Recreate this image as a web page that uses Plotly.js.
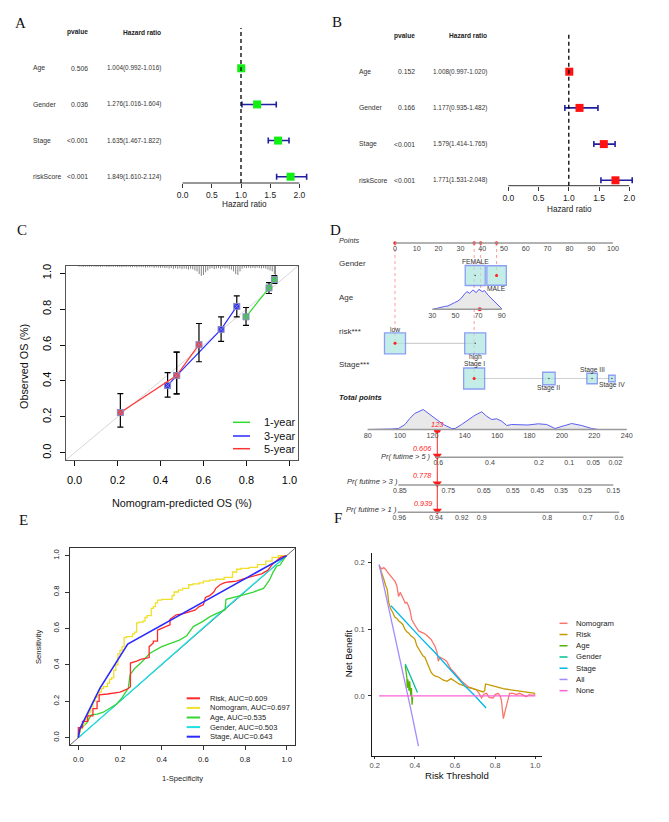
<!DOCTYPE html>
<html><head><meta charset="utf-8">
<script src="https://cdn.plot.ly/plotly-3.0.1.min.js"></script>
<style>html,body{margin:0;padding:0;background:#fff}#chart{width:669px;height:822px}</style>
</head><body><div id="chart"></div>
<script>
// ================= DATA =================
// A / B : Cox regression
const coxVars = ['Age', 'Gender', 'Stage', 'riskScore'];
const uniP = ['0.506', '0.036', '<0.001', '<0.001'];
const uniHR = [1.004, 1.276, 1.635, 1.849];
const uniLow = [0.992, 1.016, 1.467, 1.610];
const uniHigh = [1.016, 1.604, 1.822, 2.124];
const multiP = ['0.152', '0.166', '<0.001', '<0.001'];
const multiHR = [1.008, 1.177, 1.579, 1.771];
const multiLow = [0.997, 0.935, 1.414, 1.531];
const multiHigh = [1.020, 1.482, 1.765, 2.048];
const hrTicks = [0, 0.5, 1, 1.5, 2];

// C : calibration
const calNames = ['1-year', '3-year', '5-year'];
const cal1X = [0.798, 0.905, 0.930], cal1Y = [0.757, 0.918, 0.965], cal1Lo = [0.709, 0.887, 0.943], cal1Hi = [0.809, 0.948, 0.987];
const cal3X = [0.433, 0.475, 0.682, 0.755], cal3Y = [0.374, 0.430, 0.687, 0.815], cal3Lo = [0.310, 0.328, 0.620, 0.757], cal3Hi = [0.446, 0.560, 0.757, 0.874];
const cal5X = [0.213, 0.475, 0.579], cal5Y = [0.224, 0.430, 0.602], cal5Lo = [0.143, 0.328, 0.507], cal5Hi = [0.330, 0.560, 0.720];
const rugX = [0.02,0.03,0.04,0.05,0.06,0.07,0.08,0.09,0.10,0.11,0.12,0.13,0.14,0.15,0.16,0.17,0.18,0.19,0.20,0.21,0.22,0.23,0.24,0.25,0.26,0.27,0.28,0.29,0.30,0.31,0.32,0.33,0.34,0.35,0.36,0.37,0.38,0.39,0.40,0.41,0.42,0.43,0.44,0.45,0.46,0.47,0.48,0.49,0.50,0.51,0.52,0.53,0.54,0.55,0.56,0.57,0.58,0.59,0.60,0.61,0.62,0.63,0.64,0.65,0.66,0.67,0.68,0.69,0.70,0.71,0.72,0.73,0.74,0.75,0.76,0.77,0.78,0.79,0.80,0.81,0.82,0.83,0.84,0.85,0.86,0.87,0.88,0.89,0.90,0.91,0.92,0.93,0.935];
const rugLen = [0.004,0.003,0.005,0.004,0.003,0.005,0.004,0.003,0.005,0.004,0.006,0.004,0.003,0.005,0.006,0.004,0.005,0.004,0.006,0.005,0.007,0.005,0.006,0.004,0.007,0.006,0.005,0.008,0.006,0.007,0.006,0.009,0.007,0.008,0.006,0.010,0.008,0.009,0.010,0.009,0.012,0.010,0.014,0.011,0.016,0.012,0.015,0.013,0.018,0.014,0.016,0.020,0.015,0.018,0.025,0.030,0.045,0.055,0.050,0.035,0.025,0.015,0.012,0.018,0.014,0.012,0.016,0.010,0.014,0.012,0.018,0.020,0.030,0.045,0.050,0.030,0.015,0.010,0.012,0.009,0.012,0.010,0.013,0.009,0.012,0.014,0.012,0.015,0.020,0.025,0.030,0.045,0.070];

// D : nomogram
const pointsTicks = [0,10,20,30,40,50,60,70,80,90,100];
const genderLevels = ['FEMALE', 'MALE'], genderPts = [36.8, 46.6], genderBox = [20, 19.5];
const ageTicks = [30, 50, 70, 90];
const ageDensX = [30.5, 34, 37.7, 40.5, 43.5, 46.4, 49.3, 52.2, 55, 57.9, 59.9, 62.2, 65.1, 68, 70.3, 73.2, 75.2, 78.1, 82.4, 85.3, 88.2, 90.5];
const ageDensY = [0, 1.2, 2, 2.8, 3.3, 5.3, 6.7, 8.3, 11, 15.3, 17.7, 16, 19.3, 16.7, 20, 17.7, 18.7, 14.3, 9.3, 5.3, 2.7, 0];
const riskLevels = ['low', 'high'], riskPts = [0, 36.8], riskBox = [21, 21];
const stageLevels = ['Stage I', 'Stage II', 'Stage III', 'Stage IV'], stagePts = [36.3, 70.6, 90.4, 99.5], stageBox = [21, 12.5, 10.5, 6.5];
const totalTicks = [80,100,120,140,160,180,200,220,240];
const totDensX = [80, 90, 95, 99, 103, 106, 109, 114.3, 118.5, 122.6, 126.7, 131.9, 134, 138, 142.1, 146.3, 150.4, 153.5, 156.6, 159.7, 162.8, 165.9, 169, 173, 179, 185.4, 190.6, 195.7, 199.8, 206, 212.2, 218.4, 222.5, 230, 240];
const totDensY = [0, 0, 0.5, 1, 5, 11, 16, 20, 15, 10, 5, 1, 1, 5, 10, 14.3, 17.7, 13.3, 10, 10.7, 8.3, 4, 5, 5, 4.5, 5.7, 5, 1, 3, 6, 4, 1, 0, 0.3, 0];
const p5Labels = ['0.6','0.4','0.2','0.1','0.05','0.02'], p5Pos = [123.6, 155.5, 185.8, 204.5, 219.3, 232.9];
const p3Labels = ['0.85','0.75','0.65','0.55','0.45','0.35','0.25','0.15'], p3Pos = [99.9, 129.8, 151.8, 169.6, 184.8, 199.4, 214.2, 231.7];
const p1Labels = ['0.96','0.94','0.92','0.9','0.8','0.7','0.6'], p1Pos = [99.5, 122.2, 138.1, 150.4, 190.9, 215.9, 235.4];
const obsPoints = [46.6, 39.3, 0, 36.3];   // MALE, age 71, low risk, Stage I
const obsAge = 71;
const obsTotal = 123;
const obsProb = [0.606, 0.778, 0.939];     // 5-, 3-, 1-year

// E : ROC
const rocNames = ['Risk', 'Nomogram', 'Age', 'Gender', 'Stage'];
const rocAUC = [0.609, 0.697, 0.535, 0.503, 0.643];
const rocRiskX = [0,0,0.02,0.02,0.045,0.045,0.07,0.07,0.09,0.09,0.10,0.10,0.14,0.17,0.20,0.22,0.24,0.25,0.25,0.28,0.30,0.34,0.34,0.36,0.36,0.38,0.38,0.40,0.42,0.44,0.44,0.47,0.50,0.53,0.56,0.58,0.60,0.61,0.63,0.65,0.66,0.68,0.70,0.72,0.76,0.80,0.85,0.88,0.91,0.93,0.95,0.97,1.0];
const rocRiskY = [0,0.055,0.055,0.09,0.09,0.12,0.12,0.16,0.16,0.20,0.20,0.235,0.24,0.245,0.25,0.26,0.27,0.28,0.41,0.42,0.43,0.44,0.50,0.52,0.53,0.53,0.59,0.60,0.61,0.62,0.65,0.675,0.68,0.69,0.70,0.72,0.73,0.77,0.78,0.80,0.82,0.84,0.85,0.855,0.86,0.875,0.89,0.90,0.92,0.95,0.97,0.99,1.0];
const rocNomoX = [0,0.01,0.02,0.03,0.04,0.05,0.06,0.07,0.08,0.09,0.10,0.11,0.12,0.14,0.15,0.16,0.17,0.18,0.19,0.20,0.21,0.22,0.23,0.26,0.27,0.28,0.29,0.31,0.32,0.33,0.35,0.36,0.37,0.38,0.40,0.45,0.46,0.48,0.50,0.53,0.55,0.58,0.60,0.63,0.66,0.70,0.74,0.76,0.78,0.82,0.86,0.90,0.93,0.96,1.0];
const rocNomoY = [0,0.03,0.05,0.07,0.10,0.12,0.14,0.17,0.20,0.22,0.23,0.25,0.27,0.28,0.30,0.32,0.33,0.37,0.40,0.46,0.48,0.50,0.55,0.555,0.57,0.58,0.63,0.635,0.64,0.66,0.67,0.71,0.72,0.74,0.755,0.76,0.78,0.80,0.81,0.82,0.84,0.845,0.85,0.86,0.865,0.87,0.88,0.91,0.925,0.93,0.935,0.95,0.97,0.99,1.0];
const rocAgeX = [0,0.005,0.02,0.04,0.062,0.09,0.12,0.15,0.184,0.21,0.24,0.248,0.27,0.30,0.344,0.40,0.45,0.488,0.52,0.536,0.552,0.60,0.632,0.67,0.704,0.709,0.75,0.793,0.84,0.889,0.917,0.933,0.952,0.968,0.992,1.0];
const rocAgeY = [0,0.04,0.06,0.08,0.125,0.13,0.14,0.16,0.185,0.22,0.272,0.345,0.38,0.41,0.464,0.50,0.52,0.537,0.56,0.583,0.61,0.64,0.665,0.685,0.702,0.76,0.77,0.784,0.80,0.82,0.865,0.905,0.942,0.948,0.99,1.0];
const rocGenderX = [0, 0.71, 1.0];
const rocGenderY = [0, 0.715, 1.0];
const rocStageX = [0, 0.008, 0.104, 0.237, 1.0];
const rocStageY = [0, 0.05, 0.272, 0.514, 1.0];

// F : decision curves
const dcaNames = ['Nomogram', 'Risk', 'Age', 'Gender', 'Stage', 'All', 'None'];
const dcaNomoX = [0.222,0.235,0.245,0.253,0.262,0.27,0.278,0.29,0.302,0.31,0.319,0.327,0.335,0.343,0.352,0.36,0.368,0.376,0.385,0.395,0.41,0.42,0.43,0.443,0.455,0.468,0.48,0.49,0.501,0.51,0.517,0.525,0.534,0.545,0.558,0.57,0.58,0.591,0.61,0.633,0.65,0.674,0.69,0.707,0.72,0.732,0.745,0.757,0.77,0.79,0.80,0.815,0.825,0.831,0.836,0.841,0.848,0.856,0.864,0.872,0.89,0.905,0.922,0.94,0.955,0.97,0.985,1.0];
const dcaNomoY = [0.195,0.19,0.192,0.19,0.186,0.183,0.181,0.175,0.171,0.165,0.149,0.155,0.151,0.145,0.139,0.14,0.135,0.128,0.114,0.108,0.101,0.097,0.096,0.094,0.092,0.089,0.085,0.08,0.074,0.066,0.052,0.058,0.057,0.055,0.052,0.045,0.04,0.037,0.03,0.022,0.018,0.012,0.011,0.009,0.004,-0.003,0.003,0.004,-0.002,-0.003,0.002,0.004,0.0,-0.006,-0.02,-0.034,-0.025,-0.016,-0.005,0.004,0.004,0.002,0.004,0.001,-0.001,0.002,0.001,0.002];
const dcaRiskX = [0.222,0.235,0.245,0.255,0.262,0.27,0.28,0.29,0.30,0.31,0.32,0.33,0.34,0.35,0.36,0.37,0.38,0.39,0.40,0.41,0.42,0.43,0.44,0.45,0.46,0.47,0.48,0.49,0.50,0.52,0.54,0.56,0.58,0.60,0.62,0.64,0.66,0.68,0.70,0.72,0.74,0.748,0.752,0.78,0.80,0.84,0.88,0.92,0.96,1.0];
const dcaRiskY = [0.195,0.185,0.175,0.165,0.16,0.14,0.13,0.125,0.118,0.116,0.112,0.11,0.107,0.1,0.096,0.094,0.09,0.088,0.085,0.075,0.07,0.064,0.06,0.058,0.05,0.042,0.036,0.032,0.03,0.028,0.024,0.022,0.026,0.022,0.018,0.016,0.013,0.012,0.010,0.008,0.006,0.008,0.018,0.016,0.014,0.011,0.009,0.007,0.005,0.004];
const dcaAgeX = [0.352,0.356,0.36,0.362,0.365,0.368,0.371,0.374,0.377,0.38,0.383,0.386,0.389];
const dcaAgeY = [0.045,0.035,0.028,0.012,0.025,0.018,0.008,0.022,0.015,0.0,0.012,-0.013,-0.002];
const dcaGenderX = [0.352, 0.413], dcaGenderY = [0.048, 0.005];
const dcaStageX = [0.281,0.35,0.42,0.5,0.58,0.65,0.7,0.755], dcaStageY = [0.135,0.112,0.09,0.065,0.038,0.015,0.0,-0.018];
const dcaAllX = [0.222,0.26,0.3,0.34,0.38,0.418], dcaAllY = [0.197,0.145,0.092,0.035,-0.02,-0.075];
const dcaNoneX = [0.222, 1.0], dcaNoneY = [0, 0];

// ================= LAYOUT HELPERS =================
const W = 669, H = 822;
const FONT = 'Liberation Sans, Arial, Helvetica, sans-serif';
const SERIF = 'Liberation Serif, Times New Roman, serif';
const px = v => v / W;
const py = v => 1 - v / H;
const dom = (a, b) => [px(a), px(b)];
const domY = (top, bottom) => [py(bottom), py(top)];
function rng(d0, d1, v0, p0, v1, p1) { const s = (v1 - v0) / (p1 - p0); return [v0 + (d0 - p0) * s, v0 + (d1 - p0) * s]; }
const traces = [], shapes = [], annotations = [];
function ann(text, x, y, o) {
  return Object.assign({ text, x: px(x), y: py(y), xref: 'paper', yref: 'paper', showarrow: false,
    xanchor: 'center', yanchor: 'middle', font: { family: FONT, size: 8, color: '#222' } }, o || {});
}
function hline(xref, x0, x1, ypx, color, width) {
  shapes.push({ type: 'line', xref, yref: 'paper', x0, x1, y0: py(ypx), y1: py(ypx), line: { color, width } });
}
const layout = { width: W, height: H, margin: { l: 0, r: 0, t: 0, b: 0 }, showlegend: false,
  paper_bgcolor: '#fff', plot_bgcolor: 'rgba(0,0,0,0)', font: { family: FONT, size: 8, color: '#222' } };

// ================= A & B : forest plots =================
function forest(xa, ya, hr, lo, hi, pv, color, g) {
  const rows = coxVars.map((_, i) => coxVars.length - i);
  const xk = xa === 'x' ? 'xaxis' : 'xaxis' + xa.slice(1);
  const yk = ya === 'y' ? 'yaxis' : 'yaxis' + ya.slice(1);
  layout[xk] = { domain: dom(g.d0, g.d1), range: rng(g.d0, g.d1, 0, g.x0, 2, g.x2), anchor: ya,
    showgrid: false, zeroline: false, showline: false, ticks: 'outside', ticklen: 4, tickwidth: 1, tickcolor: '#333',
    tickvals: hrTicks, tickformat: '.1f', tickfont: { family: FONT, size: 8.5, color: '#222' } };
  layout[yk] = { domain: domY(g.top, g.axisY), range: rng(g.axisY, g.top, 4, g.rowTop, 1, g.rowBot), visible: false, anchor: xa };
  hline(xa, 0, 2, g.axisY, '#333', 1);
  shapes.push({ type: 'line', xref: xa, yref: 'paper', x0: 1, x1: 1, y0: py(g.axisY), y1: py(g.top),
    line: { color: '#000', width: 1.3, dash: '4px,3px' } });
  traces.push({ type: 'scatter', mode: 'markers', x: hr, y: rows, xaxis: xa, yaxis: ya, cliponaxis: false, hoverinfo: 'skip',
    marker: { symbol: 'square', size: 8, color },
    error_x: { type: 'data', symmetric: false, array: hi.map((h, i) => h - hr[i]), arrayminus: lo.map((l, i) => hr[i] - l),
      color: '#1f1fa0', thickness: 1.6, width: 3 } });
  const tf = { family: FONT, size: 6.8, color: '#333' };
  coxVars.forEach((v, i) => {
    annotations.push({ xref: 'paper', yref: ya, x: px(g.labX), y: rows[i], text: v, xanchor: 'left', yanchor: 'middle', showarrow: false, font: tf });
    annotations.push({ xref: 'paper', yref: ya, x: px(g.pX), y: rows[i], text: pv[i], xanchor: 'right', yanchor: 'middle', showarrow: false, font: tf });
    annotations.push({ xref: 'paper', yref: ya, x: px(g.hrX), y: rows[i],
      text: hr[i].toFixed(3) + '(' + lo[i].toFixed(3) + '-' + hi[i].toFixed(3) + ')', xanchor: 'right', yanchor: 'middle', showarrow: false,
      font: { family: FONT, size: 6.4, color: '#333' } });
  });
  annotations.push(ann('<b>pvalue</b>', g.pX, g.headY, { xanchor: 'right', font: { family: FONT, size: 6.6, color: '#222' } }));
  annotations.push(ann('<b>Hazard ratio</b>', g.hrX, g.headY, { xanchor: 'right', font: { family: FONT, size: 6.6, color: '#222' } }));
  annotations.push(ann('Hazard ratio', g.titleX, g.titleY, { font: { family: FONT, size: 8.2, color: '#222' } }));
}
forest('x', 'y', uniHR, uniLow, uniHigh, uniP, '#11ee11',
  { d0: 165, d1: 322, x0: 182.6, x2: 299.4, top: 28, axisY: 183, rowTop: 68.3, rowBot: 176.7,
    labX: 30.5, pX: 90, hrX: 162.5, headY: 32.3, titleX: 244, titleY: 205 });
forest('x2', 'y2', multiHR, multiLow, multiHigh, multiP, '#ff1111',
  { d0: 492, d1: 660, x0: 508.3, x2: 629.3, top: 32.7, axisY: 185.7, rowTop: 71.7, rowBot: 180.3,
    labX: 357.3, pX: 417.3, hrX: 488.7, headY: 35.7, titleX: 569, titleY: 209.5 });

// ================= C : calibration =================
const boxAxis = (o) => Object.assign({ showline: true, mirror: true, linecolor: '#111', linewidth: 1, ticks: 'outside',
  tickcolor: '#111', showgrid: false, zeroline: false, tickvals: [0, 0.2, 0.4, 0.6, 0.8, 1], tickformat: '.1f' }, o);
layout.xaxis3 = boxAxis({ domain: dom(66, 298), range: [-0.04, 1.04], anchor: 'y3', ticklen: 5, linecolor: '#555',
  tickfont: { family: FONT, size: 11, color: '#000' }, ticklabelstandoff: 5 });
layout.yaxis3 = boxAxis({ domain: domY(266, 460), range: [-0.04, 1.04], anchor: 'x3', ticklen: 5, tickangle: -90, linecolor: '#555',
  tickfont: { family: FONT, size: 11, color: '#000' }, ticklabelstandoff: 5 });
traces.push({ type: 'scatter', mode: 'lines', x: [-0.04, 1.04], y: [-0.04, 1.04], xaxis: 'x3', yaxis: 'y3',
  line: { color: '#d6d6d6', width: 1 }, hoverinfo: 'skip' });
{
  const rx = [], ry = [];
  rugX.forEach((x, i) => { rx.push(x, x, null); ry.push(1.04, 1.04 - rugLen[i], null); });
  traces.push({ type: 'scatter', mode: 'lines', x: rx, y: ry, xaxis: 'x3', yaxis: 'y3', line: { color: '#666', width: 0.8 }, hoverinfo: 'skip' });
}
const calColors = ['#2fdc2f', '#2a2aff', '#ff3535'];
[[cal1X, cal1Y, cal1Lo, cal1Hi], [cal3X, cal3Y, cal3Lo, cal3Hi], [cal5X, cal5Y, cal5Lo, cal5Hi]].forEach((s, k) => {
  traces.push({ type: 'scatter', mode: 'lines+markers', x: s[0], y: s[1], xaxis: 'x3', yaxis: 'y3', name: calNames[k],
    line: { color: calColors[k], width: 1.2 }, hoverinfo: 'skip',
    marker: { symbol: 'square-x', size: 6, color: calColors[k], line: { color: '#8a8ac0', width: 1 } },
    error_y: { type: 'data', symmetric: false, array: s[3].map((h, i) => h - s[1][i]), arrayminus: s[2].map((l, i) => s[1][i] - l),
      color: '#000', thickness: 1.2, width: 3 } });
});
calNames.forEach((n, k) => {
  const yy = [422.3, 436, 448.7][k];
  shapes.push({ type: 'line', xref: 'paper', yref: 'paper', x0: px(233), x1: px(250), y0: py(yy), y1: py(yy), line: { color: calColors[k], width: 1.5 } });
  annotations.push(ann(n, 262, yy, { xanchor: 'left', font: { family: FONT, size: 11, color: '#111' } }));
});
annotations.push(ann('Nomogram-predicted OS (%)', 182, 503, { font: { family: FONT, size: 10.8, color: '#111' } }));
annotations.push(ann('Observed OS (%)', 24, 367, { textangle: -90, font: { family: FONT, size: 10.8, color: '#111' } }));

// ================= D : nomogram =================
const dD0 = 340, dD1 = 660;
const ptsRange = rng(dD0, dD1, 0, 395, 100, 613);
const ageRange = rng(dD0, dD1, 30, 432.3, 90, 501.7);
const totRange = rng(dD0, dD1, 80, 367.7, 240, 626.7);
const rowY = { points: 243, gender: 275.5, age: 309.3, risk: 343.3, stage: 378.5, total: 429.5, p5: 457.3, p3: 485, p1: 512.3 };
function nomoAxis(range, ypos, vals, text, fs) {
  return { domain: dom(dD0, dD1), range, anchor: 'free', position: py(ypos), side: 'bottom', showline: false, showgrid: false,
    zeroline: false, ticks: '', tickvals: vals, ticktext: text, tickfont: { family: FONT, size: fs || 7, color: '#444' } };
}
layout.xaxis4 = nomoAxis(ptsRange, rowY.points, pointsTicks, pointsTicks.map(String), 7.2);
layout.xaxis5 = nomoAxis(ageRange, rowY.age, ageTicks, ageTicks.map(String), 7.2);
layout.xaxis6 = nomoAxis(totRange, rowY.total, totalTicks, totalTicks.map(String), 7.2);
layout.xaxis7 = nomoAxis(totRange, rowY.p5, p5Pos, p5Labels, 7);
layout.xaxis8 = nomoAxis(totRange, rowY.p3, p3Pos, p3Labels, 7);
layout.xaxis9 = nomoAxis(totRange, rowY.p1, p1Pos, p1Labels, 7);
layout.yaxis4 = { domain: domY(225, 525), range: [525, 225], visible: false, anchor: 'x4' };
layout.yaxis5 = { domain: domY(287.3, 309.3), range: [0, 22], visible: false, anchor: 'x5' };
layout.yaxis6 = { domain: domY(407.5, 429.5), range: [0, 22], visible: false, anchor: 'x6' };
// axis lines
hline('x4', 0, 100, rowY.points, '#9a9a9a', 1.6);
hline('x5', 30, 90, rowY.age, '#9a9a9a', 1.4);
hline('x6', 80, 240, rowY.total, '#9a9a9a', 1.5);
hline('x7', Math.min(...p5Pos) - 2, Math.max(...p5Pos) + 5, rowY.p5, '#9a9a9a', 1.4);
hline('x8', Math.min(...p3Pos) - 1, Math.max(...p3Pos), rowY.p3, '#9a9a9a', 1.4);
hline('x9', Math.min(...p1Pos) - 1, Math.max(...p1Pos), rowY.p1, '#9a9a9a', 1.4);
// red dotted guide lines from Points axis
{
  const obsRows = [rowY.gender, rowY.age, rowY.risk, rowY.stage];
  const gx = [], gy = [];
  obsPoints.forEach((p, i) => { gx.push(p, p, null); gy.push(rowY.points, obsRows[i], null); });
  traces.push({ type: 'scatter', mode: 'lines', x: gx, y: gy, xaxis: 'x4', yaxis: 'y4', line: { color: '#ff8080', width: 0.8, dash: 'dot' }, hoverinfo: 'skip' });
  traces.push({ type: 'scatter', mode: 'markers', x: obsPoints, y: obsPoints.map(() => rowY.points), xaxis: 'x4', yaxis: 'y4',
    marker: { color: '#ff2020', size: 3.5 }, hoverinfo: 'skip', cliponaxis: false });
}
// connecting lines for categorical rows
[[riskPts, rowY.risk], [stagePts, rowY.stage]].forEach(r => {
  traces.push({ type: 'scatter', mode: 'lines', x: r[0], y: r[0].map(() => r[1]), xaxis: 'x4', yaxis: 'y4', line: { color: '#d0d0d0', width: 1.2 }, hoverinfo: 'skip' });
});
// boxes (size ~ frequency) + level labels
const boxFill = '#ade6dd', boxLine = '#5b78f2';
function boxes(pts, sizes, labels, ry, labelY) {
  traces.push({ type: 'scatter', mode: 'markers', x: pts, y: pts.map(() => ry), xaxis: 'x4', yaxis: 'y4', cliponaxis: false,
    marker: { symbol: 'square', size: sizes, color: boxFill, line: { color: boxLine, width: 1.3 } }, hoverinfo: 'skip' });
  traces.push({ type: 'scatter', mode: 'markers', x: pts, y: pts.map(() => ry), xaxis: 'x4', yaxis: 'y4',
    marker: { size: 1.6, color: '#555' }, hoverinfo: 'skip' });
  labels.forEach((l, i) => annotations.push({ xref: 'x4', yref: 'y4', x: pts[i], y: labelY[i], text: l, showarrow: false,
    xanchor: 'center', yanchor: 'middle', font: { family: FONT, size: 6.7, color: '#333' } }));
}
boxes(genderPts, genderBox, genderLevels, rowY.gender, [262, 289]);
boxes(riskPts, riskBox, riskLevels, rowY.risk, [330, 356.7]);
boxes(stagePts, stageBox, stageLevels, rowY.stage, [363.6, 387.7, 370.2, 384.6]);
// observed category dots
traces.push({ type: 'scatter', mode: 'markers', x: [obsPoints[0], obsPoints[2], obsPoints[3]], y: [rowY.gender, rowY.risk, rowY.stage],
  xaxis: 'x4', yaxis: 'y4', marker: { color: '#ff2020', size: 3 }, hoverinfo: 'skip' });
// age density
traces.push({ type: 'scatter', mode: 'lines', x: ageDensX, y: ageDensY, xaxis: 'x5', yaxis: 'y5', fill: 'tozeroy',
  fillcolor: '#e9e9e9', line: { color: '#5b5bf5', width: 1 }, hoverinfo: 'skip' });
traces.push({ type: 'scatter', mode: 'markers', x: [obsAge], y: [0], xaxis: 'x5', yaxis: 'y5', cliponaxis: false,
  marker: { color: '#ff2020', size: 4 }, hoverinfo: 'skip' });
// total points density
traces.push({ type: 'scatter', mode: 'lines', x: totDensX, y: totDensY, xaxis: 'x6', yaxis: 'y6', fill: 'tozeroy',
  fillcolor: '#e9e9e9', line: { color: '#5b5bf5', width: 1 }, hoverinfo: 'skip' });
// red total-point marker and drop line
traces.push({ type: 'scatter', mode: 'lines', x: [obsTotal, obsTotal], y: [rowY.total, rowY.p1 - 1], xaxis: 'x6', yaxis: 'y4',
  line: { color: '#ff2a2a', width: 1 }, hoverinfo: 'skip' });
traces.push({ type: 'scatter', mode: 'markers', x: [obsTotal], y: [rowY.total], xaxis: 'x6', yaxis: 'y4', cliponaxis: false,
  marker: { color: '#ff1a1a', size: 7 }, hoverinfo: 'skip' });
annotations.push({ xref: 'x6', yref: 'y4', x: obsTotal, y: rowY.total - 5, text: '<i>' + obsTotal + '</i>', showarrow: false,
  xanchor: 'center', yanchor: 'middle', font: { family: FONT, size: 7.5, color: '#ff2020' } });
['x7', 'x8', 'x9'].forEach((xa, k) => {
  const ry = [rowY.p5, rowY.p3, rowY.p1][k];
  traces.push({ type: 'scatter', mode: 'markers', x: [obsTotal], y: [ry - 1.5], xaxis: xa, yaxis: 'y4', cliponaxis: false,
    marker: { symbol: 'triangle-down', color: '#ff1a1a', size: 8 }, hoverinfo: 'skip' });
  annotations.push({ xref: xa, yref: 'y4', x: obsTotal, xshift: -3.5, y: ry - 9, text: '<i>' + obsProb[k].toFixed(3) + '</i>', showarrow: false,
    xanchor: 'right', yanchor: 'middle', font: { family: FONT, size: 7.3, color: '#ff2020' } });
});
// row labels
const rl = { family: FONT, size: 8, color: '#333' };
annotations.push(ann('<i>Points</i>', 337, 241, { xanchor: 'left', font: { family: FONT, size: 7.2, color: '#333' } }));
annotations.push(ann('Gender', 337, 263, { xanchor: 'left', font: rl }));
annotations.push(ann('Age', 337, 297.7, { xanchor: 'left', font: rl }));
annotations.push(ann('risk***', 337, 332, { xanchor: 'left', font: rl }));
annotations.push(ann('Stage***', 337, 365, { xanchor: 'left', font: rl }));
annotations.push(ann('<b><i>Total points</i></b>', 337, 397.3, { xanchor: 'left', font: { family: FONT, size: 7.6, color: '#222' } }));
annotations.push(ann('<i>Pr( futime > 5 )</i>', 433, 456.5, { xanchor: 'right', font: { family: FONT, size: 7.4, color: '#333' } }));
annotations.push(ann('<i>Pr( futime > 3 )</i>', 400, 482, { xanchor: 'right', font: { family: FONT, size: 7.6, color: '#333' } }));
annotations.push(ann('<i>Pr( futime > 1 )</i>', 399, 509, { xanchor: 'right', font: { family: FONT, size: 7.6, color: '#333' } }));

// ================= E : ROC =================
layout.xaxis10 = boxAxis({ domain: dom(70, 295), range: [-0.04, 1.04], anchor: 'y10', ticklen: 4, linecolor: '#333', tickcolor: '#333',
  tickfont: { family: FONT, size: 7.6, color: '#111' }, ticklabelstandoff: 3 });
layout.yaxis10 = boxAxis({ domain: domY(548.3, 745), range: [-0.04, 1.04], anchor: 'x10', ticklen: 4, tickangle: -90, linecolor: '#333', tickcolor: '#333',
  tickfont: { family: FONT, size: 7.6, color: '#111' }, ticklabelstandoff: 3 });
traces.push({ type: 'scatter', mode: 'lines', x: [-0.04, 1.04], y: [-0.04, 1.04], xaxis: 'x10', yaxis: 'y10', line: { color: '#666', width: 1 }, hoverinfo: 'skip' });
const rocColors = ['#ff2a2a', '#f0e02a', '#35d535', '#1ee0e0', '#2a2aff'];
const rocSets = [[rocRiskX, rocRiskY, 'linear'], [rocNomoX, rocNomoY, 'vh'], [rocAgeX, rocAgeY, 'linear'], [rocGenderX, rocGenderY, 'linear'], [rocStageX, rocStageY, 'linear']];
[3, 2, 1, 0, 4].forEach(k => {
  traces.push({ type: 'scatter', mode: 'lines', x: rocSets[k][0], y: rocSets[k][1], xaxis: 'x10', yaxis: 'y10', name: rocNames[k],
    line: { color: rocColors[k], width: k === 4 ? 1.6 : 1.3, shape: rocSets[k][2] }, hoverinfo: 'skip' });
});
rocNames.forEach((n, k) => {
  const yy = 698.3 + k * 9.6;
  shapes.push({ type: 'line', xref: 'paper', yref: 'paper', x0: px(186.7), x1: px(200), y0: py(yy), y1: py(yy), line: { color: rocColors[k], width: 2 } });
  annotations.push(ann(n + ', AUC=' + rocAUC[k].toFixed(3), 207.7, yy, { xanchor: 'left', font: { family: FONT, size: 7.5, color: '#222' } }));
});
annotations.push(ann('1-Specificity', 182.7, 778.3, { font: { family: FONT, size: 7.6, color: '#222' } }));
annotations.push(ann('Sensitivity', 38.3, 646.7, { textangle: -90, font: { family: FONT, size: 7.6, color: '#222' } }));

// ================= F : decision curves =================
layout.xaxis11 = { domain: dom(371.7, 542.3), range: [0.185, 1.035], anchor: 'y11', showline: true, linecolor: '#000', linewidth: 0.9,
  ticks: 'outside', ticklen: 2.5, tickcolor: '#333', showgrid: false, zeroline: false, tickvals: [0.2, 0.4, 0.6, 0.8, 1.0], tickformat: '.1f',
  tickfont: { family: FONT, size: 7.6, color: '#4d4d4d' } };
layout.yaxis11 = { domain: domY(553.3, 755.7), range: [-0.0894, 0.2135], anchor: 'x11', showline: true, linecolor: '#000', linewidth: 0.9,
  ticks: 'outside', ticklen: 2.5, tickcolor: '#333', showgrid: false, zeroline: false, tickvals: [0, 0.1, 0.2], tickformat: '.1f',
  tickfont: { family: FONT, size: 7.6, color: '#4d4d4d' }, ticklabelstandoff: 2 };
const dcaColors = ['#F8766D', '#C49A00', '#53B400', '#00C094', '#00B6EB', '#A58AFF', '#FB61D7'];
const dcaSets = [[dcaNomoX, dcaNomoY], [dcaRiskX, dcaRiskY], [dcaAgeX, dcaAgeY], [dcaGenderX, dcaGenderY], [dcaStageX, dcaStageY], [dcaAllX, dcaAllY], [dcaNoneX, dcaNoneY]];
dcaSets.forEach((s, k) => {
  traces.push({ type: 'scatter', mode: 'lines', x: s[0], y: s[1], xaxis: 'x11', yaxis: 'y11', name: dcaNames[k],
    line: { color: dcaColors[k], width: 1.3 }, hoverinfo: 'skip' });
});
dcaNames.forEach((n, k) => {
  const yy = 623.3 + k * 11.23;
  shapes.push({ type: 'line', xref: 'paper', yref: 'paper', x0: px(559.5), x1: px(567.5), y0: py(yy), y1: py(yy), line: { color: dcaColors[k], width: 1.5 } });
  annotations.push(ann(n, 574.3, yy, { xanchor: 'left', font: { family: FONT, size: 7.7, color: '#222' } }));
});
annotations.push(ann('Risk Threshold', 456.7, 775.5, { font: { family: FONT, size: 9.6, color: '#111' } }));
annotations.push(ann('Net Benefit', 348.3, 653, { textangle: -90, font: { family: FONT, size: 9.6, color: '#111' } }));

// ================= panel letters =================
[['A', 20.5, 23.3], ['B', 337, 22], ['C', 22, 230], ['D', 335.7, 230], ['E', 23, 520], ['F', 337.5, 518]].forEach(l => {
  annotations.push(ann(l[0], l[1], l[2], { font: { family: SERIF, size: 15, color: '#111' } }));
});

layout.shapes = shapes;
layout.annotations = annotations;
Plotly.newPlot('chart', traces, layout, { staticPlot: true, displayModeBar: false });
</script>
</body></html>
